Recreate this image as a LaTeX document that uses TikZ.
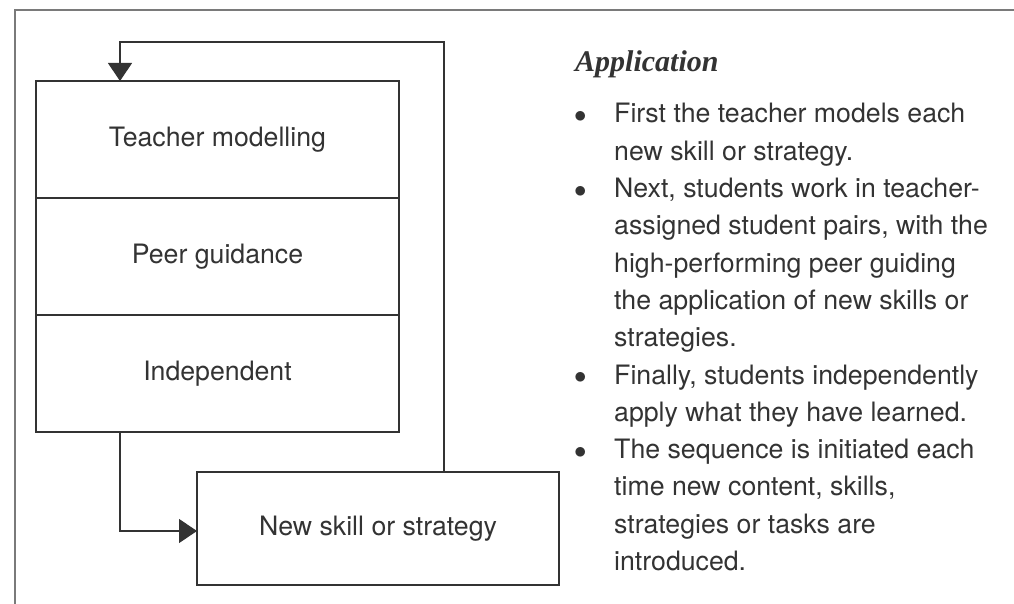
\documentclass[tikz,border=0pt]{standalone}
\usepackage{fontspec}
\setmainfont{TeX Gyre Heros}
\newfontfamily\headfont{Liberation Serif}
\usetikzlibrary{arrows.meta,positioning}
\definecolor{inkgray}{HTML}{333333}
\definecolor{framegray}{HTML}{7A7A7A}
\newcommand{\pointmark}{\raisebox{0.5pt}{$\bullet$}}

\begin{document}
\begin{tikzpicture}[x=1pt,y=-1pt,
    stage/.style={draw=inkgray, line width=1.3pt, minimum width=363pt, minimum height=117pt,
        inner sep=0pt, outer sep=0pt, text=inkgray, font=\fontsize{26.7}{32}\selectfont},
    flow/.style={draw=inkgray, line width=1.3pt, -{Triangle[length=18pt,width=24pt]}},
    listtext/.style={anchor=base west, inner sep=0pt, text=inkgray, font=\fontsize{26.7}{37.3}\selectfont}]
    \useasboundingbox (0,0) rectangle (1014,604);
    \draw[framegray, line width=1.6pt] (1014,10) -- (15,10) -- (15,604);

    \node[stage](teacher) at (217.5,139.5){Teacher modelling};
    \node[stage](peer)[below=0pt of teacher]{Peer guidance};
    \node[stage](indep)[below=0pt of peer]{Independent};
    \node[stage, minimum width=362pt, minimum height=113pt](newskill) at (378,528.5){New skill or strategy};

    \coordinate(backtop) at (444,42);
    \coordinate(backleft) at (120,42);
    \coordinate(outturn) at (120,531);
    \draw[flow](backtop |- newskill.north) -- (backtop) -- (backleft) -- (backleft |- teacher.north);
    \draw[flow](outturn |- indep.south) -- (outturn) -- (outturn -| newskill.west);

    \node[anchor=base west, inner sep=0pt, text=inkgray, font=\headfont\bfseries\itshape\fontsize{30}{32}\selectfont](apphead) at (575,72){Application};
    \node[listtext](points) at (574,123){\begin{tabular}[t]{@{}p{40pt}@{}l@{}}
        \pointmark & First the teacher models each\\
                   & new skill or strategy.\\
        \pointmark & Next, students work in teacher-\\
                   & assigned student pairs, with the\\
                   & high-performing peer guiding\\
                   & the application of new skills or\\
                   & strategies.\\
        \pointmark & Finally, students independently\\
                   & apply what they have learned.\\
        \pointmark & The sequence is initiated each\\
                   & time new content, skills,\\
                   & strategies or tasks are\\
                   & introduced.
    \end{tabular}};
\end{tikzpicture}
\end{document}
